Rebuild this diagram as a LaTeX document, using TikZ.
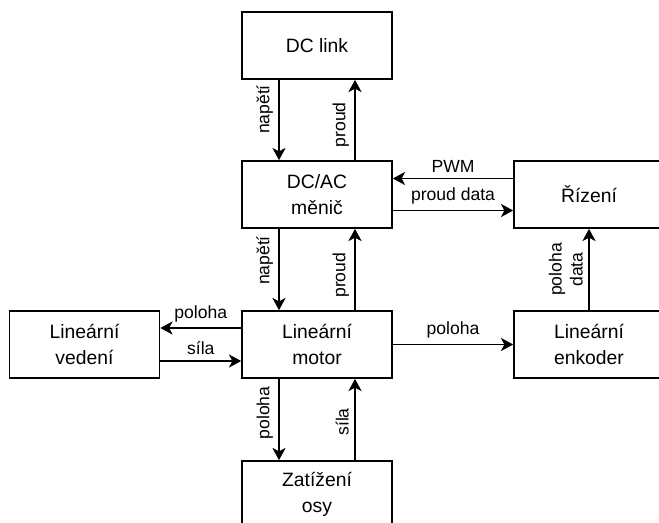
\documentclass[tikz,border=0pt]{standalone}
\usepackage{fontspec}
\setmainfont{Liberation Sans}
\usetikzlibrary{arrows.meta,calc}

\tikzset{
  blok/.style={draw, line width=0.95pt, minimum width=3cm, minimum height=1.34cm,
    align=center, font=\fontsize{11}{14.5}\selectfont},
  popis/.style={font=\fontsize{10}{12}\selectfont, inner sep=3pt, align=center},
  sipka/.style={line width=0.95pt, -{Stealth[length=7pt,width=7.5pt,inset=2pt]}}
}

\begin{document}
\begin{tikzpicture}[x=0.02cm, y=-0.02cm] % 1 unit = 1 px of the sketch

\useasboundingbox (0,0) rectangle (659,522);
\clip (0,0) rectangle (659,522);

\node [blok] (dclink) at (317,45.5) {DC link};
\node [blok] (menic) at (317,194.5) {DC/AC\\měnič};
\node [blok] (rizeni) at (589,194.5) {Řízení};
\node [blok] (vedeni) at (84.5,344.5) {Lineární\\vedení};
\node [blok] (motor) at (317,344.5) {Lineární\\motor};
\node [blok] (enkoder) at (589,344.5) {Lineární\\enkoder};
\node [blok] (zatizeni) at (317,494.5) {Zatížení\\osy};

% DC link <-> menic
\draw [sipka] ($(dclink.south)+(-38,0)$) -- ($(menic.north)+(-38,0)$)
  node [popis, pos=0.37, rotate=90, above] {napětí};
\draw [sipka] ($(menic.north)+(38,0)$) -- ($(dclink.south)+(38,0)$)
  node [popis, pos=0.44, rotate=90, above] {proud};

% menic <-> rizeni
\draw [sipka] ($(rizeni.west)+(0,-16)$) -- ($(menic.east)+(0,-16)$)
  node [popis, midway, above] {PWM};
\draw [sipka] ($(menic.east)+(0,16)$) -- ($(rizeni.west)+(0,16)$)
  node [popis, midway, above] {proud data};

% menic <-> motor
\draw [sipka] ($(menic.south)+(-38,0)$) -- ($(motor.north)+(-38,0)$)
  node [popis, pos=0.39, rotate=90, above] {napětí};
\draw [sipka] ($(motor.north)+(38,0)$) -- ($(menic.south)+(38,0)$)
  node [popis, pos=0.43, rotate=90, above] {proud};

% motor <-> vedeni
\draw [sipka] ($(motor.west)+(0,-16.5)$) -- ($(vedeni.east)+(0,-16.5)$)
  node [popis, midway, above] {poloha};
\draw [sipka] ($(vedeni.east)+(0,16.5)$) -- ($(motor.west)+(0,16.5)$)
  node [popis, midway, above] {síla};

% motor -> enkoder -> rizeni
\draw [sipka] (motor) -- (enkoder)
  node [popis, midway, above] {poloha};
\draw [sipka] (enkoder) -- (rizeni)
  node [popis, midway, rotate=90, above] {poloha\\data};

% motor <-> zatizeni
\draw [sipka] ($(motor.south)+(-38,0)$) -- ($(zatizeni.north)+(-38,0)$)
  node [popis, pos=0.42, rotate=90, above] {poloha};
\draw [sipka] ($(zatizeni.north)+(38,0)$) -- ($(motor.south)+(38,0)$)
  node [popis, pos=0.47, rotate=90, above] {síla};

\end{tikzpicture}
\end{document}
